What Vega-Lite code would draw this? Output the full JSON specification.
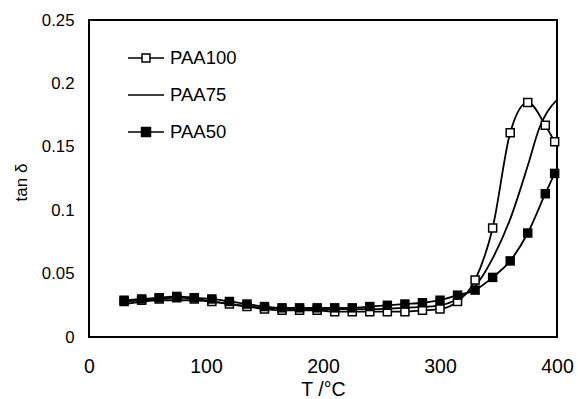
{
  "$schema": "https://vega.github.io/schema/vega-lite/v6.json",
  "width": 468,
  "height": 317,
  "autosize": {"type": "none"},
  "padding": {"left": 89, "top": 20, "right": 21, "bottom": 62},
  "background": "white",
  "config": {
    "font": "Liberation Sans",
    "view": {"stroke": "black", "strokeWidth": 2},
    "axis": {
      "domain": false,
      "ticks": false,
      "grid": false,
      "labelFlush": false,
      "labelOverlap": false,
      "labelColor": "black",
      "titleFontWeight": "normal",
      "titleColor": "black"
    }
  },
  "data": {
    "values": [
      {"s": "PAA100", "T": 30, "v": 0.028},
      {"s": "PAA100", "T": 45, "v": 0.029},
      {"s": "PAA100", "T": 60, "v": 0.030},
      {"s": "PAA100", "T": 75, "v": 0.031},
      {"s": "PAA100", "T": 90, "v": 0.030},
      {"s": "PAA100", "T": 105, "v": 0.028},
      {"s": "PAA100", "T": 120, "v": 0.026},
      {"s": "PAA100", "T": 135, "v": 0.024},
      {"s": "PAA100", "T": 150, "v": 0.022},
      {"s": "PAA100", "T": 165, "v": 0.021},
      {"s": "PAA100", "T": 180, "v": 0.021},
      {"s": "PAA100", "T": 195, "v": 0.021},
      {"s": "PAA100", "T": 210, "v": 0.020},
      {"s": "PAA100", "T": 225, "v": 0.020},
      {"s": "PAA100", "T": 240, "v": 0.020},
      {"s": "PAA100", "T": 255, "v": 0.020},
      {"s": "PAA100", "T": 270, "v": 0.020},
      {"s": "PAA100", "T": 285, "v": 0.021},
      {"s": "PAA100", "T": 300, "v": 0.022},
      {"s": "PAA100", "T": 315, "v": 0.028},
      {"s": "PAA100", "T": 330, "v": 0.045},
      {"s": "PAA100", "T": 345, "v": 0.086},
      {"s": "PAA100", "T": 360, "v": 0.161},
      {"s": "PAA100", "T": 375, "v": 0.185},
      {"s": "PAA100", "T": 390, "v": 0.167},
      {"s": "PAA100", "T": 398, "v": 0.154},
      {"s": "PAA75", "T": 30, "v": 0.026},
      {"s": "PAA75", "T": 60, "v": 0.029},
      {"s": "PAA75", "T": 90, "v": 0.029},
      {"s": "PAA75", "T": 120, "v": 0.026},
      {"s": "PAA75", "T": 150, "v": 0.023},
      {"s": "PAA75", "T": 180, "v": 0.022},
      {"s": "PAA75", "T": 210, "v": 0.022},
      {"s": "PAA75", "T": 240, "v": 0.022},
      {"s": "PAA75", "T": 270, "v": 0.023},
      {"s": "PAA75", "T": 300, "v": 0.025},
      {"s": "PAA75", "T": 315, "v": 0.030},
      {"s": "PAA75", "T": 330, "v": 0.040},
      {"s": "PAA75", "T": 345, "v": 0.062},
      {"s": "PAA75", "T": 360, "v": 0.093},
      {"s": "PAA75", "T": 375, "v": 0.135},
      {"s": "PAA75", "T": 385, "v": 0.165},
      {"s": "PAA75", "T": 392, "v": 0.178},
      {"s": "PAA75", "T": 400, "v": 0.187},
      {"s": "PAA50", "T": 30, "v": 0.029},
      {"s": "PAA50", "T": 45, "v": 0.030},
      {"s": "PAA50", "T": 60, "v": 0.031},
      {"s": "PAA50", "T": 75, "v": 0.032},
      {"s": "PAA50", "T": 90, "v": 0.031},
      {"s": "PAA50", "T": 105, "v": 0.030},
      {"s": "PAA50", "T": 120, "v": 0.028},
      {"s": "PAA50", "T": 135, "v": 0.026},
      {"s": "PAA50", "T": 150, "v": 0.024},
      {"s": "PAA50", "T": 165, "v": 0.023},
      {"s": "PAA50", "T": 180, "v": 0.023},
      {"s": "PAA50", "T": 195, "v": 0.023},
      {"s": "PAA50", "T": 210, "v": 0.023},
      {"s": "PAA50", "T": 225, "v": 0.023},
      {"s": "PAA50", "T": 240, "v": 0.024},
      {"s": "PAA50", "T": 255, "v": 0.025},
      {"s": "PAA50", "T": 270, "v": 0.026},
      {"s": "PAA50", "T": 285, "v": 0.027},
      {"s": "PAA50", "T": 300, "v": 0.029},
      {"s": "PAA50", "T": 315, "v": 0.033},
      {"s": "PAA50", "T": 330, "v": 0.037},
      {"s": "PAA50", "T": 345, "v": 0.047},
      {"s": "PAA50", "T": 360, "v": 0.060},
      {"s": "PAA50", "T": 375, "v": 0.082},
      {"s": "PAA50", "T": 390, "v": 0.113},
      {"s": "PAA50", "T": 398, "v": 0.129}
    ]
  },
  "encoding": {
    "x": {
      "field": "T",
      "type": "quantitative",
      "scale": {"domain": [0, 400], "nice": false, "zero": false},
      "axis": {
        "values": [0, 100, 200, 300, 400],
        "labelFontSize": 19.5,
        "labelPadding": 20,
        "title": "T /°C",
        "titleFontSize": 19.5,
        "titleY": 58,
        "titleBaseline": "alphabetic"
      }
    },
    "y": {
      "field": "v",
      "type": "quantitative",
      "scale": {"domain": [0, 0.25], "nice": false},
      "axis": {
        "values": [0, 0.05, 0.1, 0.15, 0.2, 0.25],
        "format": "~g",
        "labelFontSize": 16.8,
        "labelPadding": 15,
        "title": "tan δ",
        "titleFontSize": 17,
        "titleAngle": -90,
        "titleX": -63,
        "titleY": 162,
        "titleAlign": "center",
        "titleBaseline": "alphabetic"
      }
    }
  },
  "layer": [
    {
      "mark": {"type": "line", "interpolate": "monotone", "color": "black", "strokeWidth": 1.8},
      "encoding": {"detail": {"field": "s"}}
    },
    {
      "transform": [{"filter": "datum.s == 'PAA100'"}],
      "mark": {"type": "point", "shape": "square", "filled": true, "fill": "white", "stroke": "black", "strokeWidth": 1.5, "size": 64, "opacity": 1}
    },
    {
      "transform": [{"filter": "datum.s == 'PAA50'"}],
      "mark": {"type": "point", "shape": "square", "filled": true, "color": "black", "size": 90, "opacity": 1}
    },
    {
      "transform": [{"filter": "datum.T > 1000"}],
      "mark": {"type": "point", "filled": true, "strokeWidth": 1.5, "opacity": 1},
      "encoding": {
        "shape": {
          "field": "s",
          "type": "nominal",
          "scale": {
            "domain": ["PAA100", "PAA75", "PAA50"],
            "range": [
              "M-1,0H-0.22M0.22,0H1M-0.22,-0.22H0.22V0.22H-0.22Z",
              "M-1,0H1",
              "M-1,0H-0.25M0.25,0H1M-0.25,-0.25H0.25V0.25H-0.25Z"
            ]
          },
          "legend": {
            "title": null,
            "orient": "none",
            "legendX": 38,
            "legendY": 19,
            "padding": 0,
            "rowPadding": 8,
            "symbolSize": 1296,
            "symbolStrokeColor": "black",
            "symbolStrokeWidth": 1.5,
            "symbolOpacity": 1,
            "labelFontSize": 18.5,
            "labelColor": "black",
            "labelOffset": 5,
            "labelLimit": 200
          }
        },
        "fill": {
          "field": "s",
          "type": "nominal",
          "scale": {
            "domain": ["PAA100", "PAA75", "PAA50"],
            "range": ["white", "white", "black"]
          },
          "legend": {
            "title": null,
            "orient": "none",
            "legendX": 38,
            "legendY": 19,
            "padding": 0,
            "rowPadding": 8,
            "symbolSize": 1296,
            "symbolStrokeColor": "black",
            "symbolStrokeWidth": 1.5,
            "symbolOpacity": 1,
            "labelFontSize": 18.5,
            "labelColor": "black",
            "labelOffset": 5,
            "labelLimit": 200
          }
        },
        "stroke": {
          "field": "s",
          "type": "nominal",
          "scale": {
            "domain": ["PAA100", "PAA75", "PAA50"],
            "range": ["black", "black", "black"]
          },
          "legend": {
            "title": null,
            "orient": "none",
            "legendX": 38,
            "legendY": 19,
            "padding": 0,
            "rowPadding": 8,
            "symbolSize": 1296,
            "symbolStrokeColor": "black",
            "symbolStrokeWidth": 1.5,
            "symbolOpacity": 1,
            "labelFontSize": 18.5,
            "labelColor": "black",
            "labelOffset": 5,
            "labelLimit": 200
          }
        }
      }
    }
  ]
}
